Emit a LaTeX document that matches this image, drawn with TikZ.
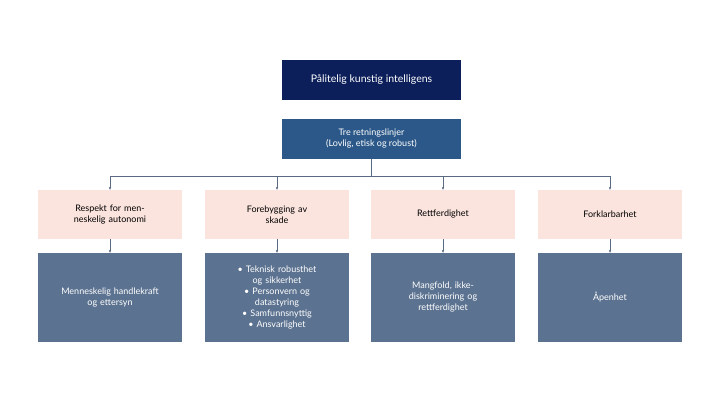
\documentclass[tikz,border=0pt]{standalone}
\usepackage{fontspec}
\setmainfont{Lato}
\usetikzlibrary{arrows.meta,positioning,calc}
\definecolor{navy}{HTML}{0C1F5A}
\definecolor{midblue}{HTML}{2C5889}
\definecolor{pinkbox}{HTML}{FCE4DE}
\definecolor{slate}{HTML}{5B7290}
\definecolor{linegray}{HTML}{5A6A80}

\begin{document}
\begin{tikzpicture}[x=1pt,y=-1pt]
  % Stiler
  \tikzstyle{topbox}=[rectangle, fill=navy, text=white, minimum width=179pt, minimum height=40pt, font=\fontsize{10.5}{12}\selectfont, align=center]
  \tikzstyle{midbox}=[rectangle, fill=midblue, text=white, minimum width=179pt, minimum height=40pt, font=\fontsize{9}{11}\selectfont, align=center]
  \tikzstyle{principle}=[rectangle, fill=pinkbox, text=black, minimum width=144pt, minimum height=49pt, text width=120pt, font=\fontsize{9}{11}\selectfont, align=center]
  \tikzstyle{detail}=[rectangle, fill=slate, text=white, minimum width=144pt, minimum height=89pt, text width=125pt, font=\fontsize{9}{11}\selectfont, align=center]
  \tikzstyle{conn}=[-{Stealth[length=3pt,width=2.5pt]}, linegray, thin]

  \useasboundingbox (0,0) rectangle (720,405);

  % Toppnivå
  \node[topbox] (ki) at (371.5,80) {Pålitelig kunstig intelligens};
  \node[midbox] (tre) at (371.5,139) {Tre retningslinjer\\(Lovlig, etisk og robust)};

  % Prinsipper
  \node[principle] (p1) at (110,214.5) {Respekt for menneskelig autonomi};
  \node[principle] (p2) at (277,214.5) {Forebygging av\\skade};
  \node[principle] (p3) at (443,214.5) {Rettferdighet};
  \node[principle] (p4) at (610,214.5) {Forklarbarhet};

  % Detaljer
  \node[detail] (d1) at (110,297.5) {Menneskelig handlekraft\\og ettersyn};
  \node[detail] (d2) at (277,297.5) {• Teknisk robusthet\\og sikkerhet\\• Personvern og\\datastyring\\• Samfunnsnyttig\\• Ansvarlighet};
  \node[detail] (d3) at (443,297.5) {Mangfold, ikke-\\diskriminering og\\rettferdighet};
  \node[detail] (d4) at (610,297.5) {Åpenhet};

  % Forbindelser
  \coordinate (hub) at (371.5,176);
  \draw[linegray, thin] (tre.south) -- (hub);
  \draw[linegray, thin] (p1.north |- hub) -- (p4.north |- hub);
  \foreach \p in {p1,p2,p3,p4} {
    \draw[conn] (\p.north |- hub) -- (\p.north);
  }
  \draw[conn] (p1) -- (d1);
  \draw[conn] (p2) -- (d2);
  \draw[conn] (p3) -- (d3);
  \draw[conn] (p4) -- (d4);
\end{tikzpicture}
\end{document}
